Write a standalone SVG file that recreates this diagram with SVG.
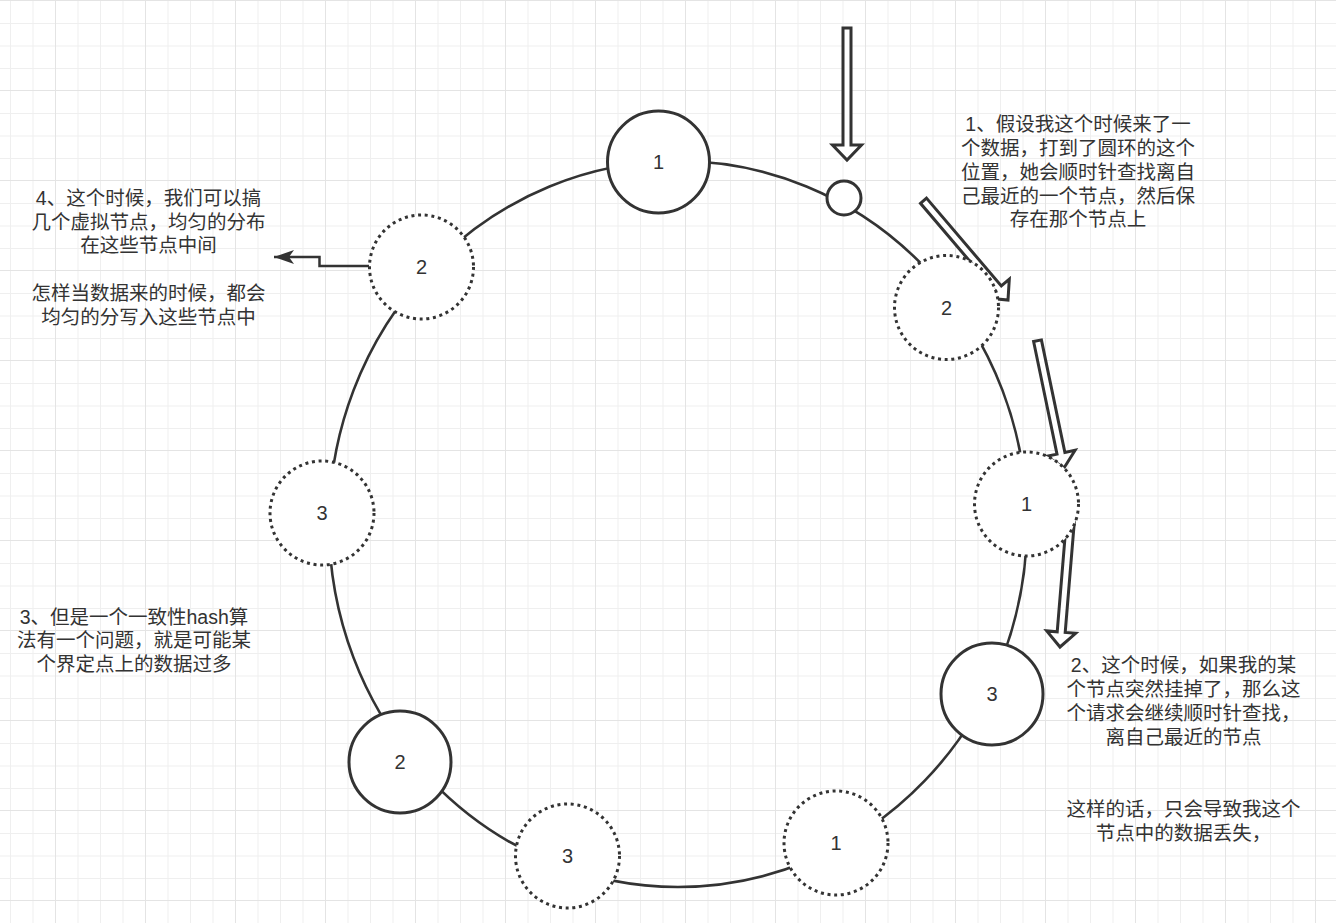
<svg xmlns="http://www.w3.org/2000/svg" width="1336" height="923" viewBox="0 0 1336 923">
  <defs>
    <pattern id="grid" x="55" y="0" width="90" height="90" patternUnits="userSpaceOnUse">
      <rect width="90" height="90" fill="#ffffff"/>
      <rect x="22.5" y="0" width="1" height="90" fill="#efefef"/>
      <rect x="45" y="0" width="1" height="90" fill="#efefef"/>
      <rect x="67.5" y="0" width="1" height="90" fill="#efefef"/>
      <rect x="0" y="23" width="90" height="1" fill="#efefef"/>
      <rect x="0" y="45.5" width="90" height="1" fill="#efefef"/>
      <rect x="0" y="68" width="90" height="1" fill="#efefef"/>
      <rect x="0" y="0" width="1" height="90" fill="#e4e4e4"/>
      <rect x="0" y="0" width="90" height="1" fill="#e4e4e4"/>
    </pattern>
    <marker id="arrowhead" markerWidth="20" markerHeight="14" refX="20" refY="7" orient="auto" markerUnits="userSpaceOnUse">
      <path d="M0,0 L20,7 L0,14 L5,7 Z" fill="#333333"/>
    </marker>
  </defs>
  <style>
    .node { fill: #ffffff; stroke: #333333; stroke-width: 3; }
    .dotted { stroke-dasharray: 3 3.7; }
    .ring { fill: none; stroke: #333333; stroke-width: 2.6; }
    .flex { fill: #ffffff; stroke: #333333; stroke-width: 3; stroke-linejoin: miter; }
    .edge { fill: none; stroke: #333333; stroke-width: 2.5; }
    .lbl { font-family: "Liberation Sans", "Noto Sans CJK SC", sans-serif; font-size: 20px; fill: #333333; text-anchor: middle; }
    .txt { font-family: "Liberation Sans", "Noto Sans CJK SC", sans-serif; font-size: 19.5px; fill: #333333; text-anchor: middle; }
  </style>

  <rect x="0" y="0" width="1336" height="923" fill="url(#grid)"/>

  <g id="ring">
    <ellipse class="ring" cx="678" cy="524" rx="349" ry="363"/>
  </g>

  <g id="connectors">
    <polygon class="flex" points="843,28 851,28 851,145 861.5,145 847,160 832.5,145 843,145"/>
    <polygon class="flex" points="926.5,198.1 1001.3,286.0 1009.3,279.2 1008,300 987.3,298.0 995.3,291.2 920.5,203.3"/>
    <polygon class="flex" points="1041.4,339.9 1064.9,452.5 1075.1,450.3 1064,468 1046.7,456.3 1057.0,454.1 1033.6,341.5"/>
    <polygon class="flex" points="1075.7,505.3 1065.2,632.4 1075.7,633.3 1060,647 1046.7,630.9 1057.2,631.8 1067.7,504.7"/>
    <path class="edge" d="M369,266 H319.5 V257 H274" marker-end="url(#arrowhead)"/>
  </g>

  <g id="node-1-top">
    <circle class="node" cx="658.5" cy="162" r="51"/>
    <text class="lbl" x="658.5" y="169">1</text>
  </g>
  <g id="node-data">
    <circle class="node" cx="844" cy="198" r="17"/>
  </g>
  <g id="node-2-v1">
    <circle class="node dotted" cx="946.5" cy="307.5" r="52"/>
    <text class="lbl" x="946.5" y="314.5">2</text>
  </g>
  <g id="node-1-v1">
    <circle class="node dotted" cx="1026.5" cy="504" r="52"/>
    <text class="lbl" x="1026.5" y="511">1</text>
  </g>
  <g id="node-3">
    <circle class="node" cx="992" cy="694" r="51"/>
    <text class="lbl" x="992" y="701">3</text>
  </g>
  <g id="node-1-v2">
    <circle class="node dotted" cx="836" cy="843" r="52"/>
    <text class="lbl" x="836" y="850">1</text>
  </g>
  <g id="node-3-v1">
    <circle class="node dotted" cx="567.5" cy="856" r="52"/>
    <text class="lbl" x="567.5" y="863">3</text>
  </g>
  <g id="node-2">
    <circle class="node" cx="400" cy="762" r="51"/>
    <text class="lbl" x="400" y="769">2</text>
  </g>
  <g id="node-3-v2">
    <circle class="node dotted" cx="322" cy="513" r="52"/>
    <text class="lbl" x="322" y="520">3</text>
  </g>
  <g id="node-2-v2">
    <circle class="node dotted" cx="421.5" cy="267" r="52"/>
    <text class="lbl" x="421.5" y="274">2</text>
  </g>

  <g id="note-1">
    <text class="txt" x="1078" y="131.4">1、假设我这个时候来了一</text>
    <text class="txt" x="1078" y="155.2">个数据，打到了圆环的这个</text>
    <text class="txt" x="1078" y="178.9">位置，她会顺时针查找离自</text>
    <text class="txt" x="1078" y="202.7">己最近的一个节点，然后保</text>
    <text class="txt" x="1078" y="226.4">存在那个节点上</text>
  </g>
  <g id="note-2">
    <text class="txt" x="1183.5" y="672.4">2、这个时候，如果我的某</text>
    <text class="txt" x="1183.5" y="696.3">个节点突然挂掉了，那么这</text>
    <text class="txt" x="1183.5" y="720.2">个请求会继续顺时针查找，</text>
    <text class="txt" x="1183.5" y="744.1">离自己最近的节点</text>
    <text class="txt" x="1183.5" y="816.4">这样的话，只会导致我这个</text>
    <text class="txt" x="1183.5" y="840.4">节点中的数据丢失，</text>
  </g>
  <g id="note-3">
    <text class="txt" x="134" y="623.5">3、但是一个一致性hash算</text>
    <text class="txt" x="134" y="647">法有一个问题，就是可能某</text>
    <text class="txt" x="134" y="670.5">个界定点上的数据过多</text>
  </g>
  <g id="note-4">
    <text class="txt" x="148.5" y="205">4、这个时候，我们可以搞</text>
    <text class="txt" x="148.5" y="228.7">几个虚拟节点，均匀的分布</text>
    <text class="txt" x="148.5" y="252.4">在这些节点中间</text>
    <text class="txt" x="148.5" y="299.8">怎样当数据来的时候，都会</text>
    <text class="txt" x="148.5" y="323.5">均匀的分写入这些节点中</text>
  </g>
</svg>
